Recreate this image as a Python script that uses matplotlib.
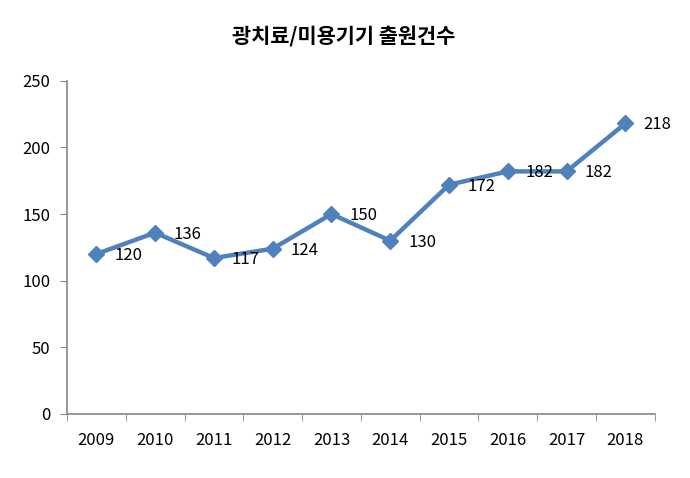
import numpy as np
import matplotlib.pyplot as plt

plt.rcParams['font.family'] = ['Noto Sans CJK KR', 'DejaVu Sans']

years = ['2009', '2010', '2011', '2012', '2013', '2014', '2015', '2016', '2017', '2018']
counts = [120, 136, 117, 124, 150, 130, 172, 182, 182, 218]

fig = plt.figure(figsize=(6.9, 4.78), dpi=100)
ax = fig.add_axes([0.097, 0.134, 0.852, 0.697])

x = np.arange(len(years))
ax.plot(x, counts, color='#4F81BD', linewidth=3.2, marker='D', markersize=8.5,
        markeredgecolor='#4F81BD')

for xi, v in zip(x, counts):
    ax.annotate(str(v), (xi, v), xytext=(23, -1), textcoords='offset points',
                ha='center', va='center', fontsize=12, color='black')

ax.set_xlim(-0.5, len(years) - 0.5)
ax.set_ylim(0, 250)
ax.set_yticks(np.arange(0, 251, 50))
ax.set_xticks(x)
ax.set_xticklabels(years)
ax.set_xticks(np.arange(-0.5, len(years), 1), minor=True)
ax.tick_params(axis='x', which='major', length=0, pad=13, labelsize=12)
ax.tick_params(axis='x', which='minor', length=5, direction='out', color='#868686')
ax.tick_params(axis='y', length=5, direction='out', color='#868686', labelsize=12, pad=7)

for s in ['top', 'right']:
    ax.spines[s].set_visible(False)
for s in ['left', 'bottom']:
    ax.spines[s].set_color('#868686')
    ax.spines[s].set_linewidth(1.2)

fig.text(0.498, 0.922, '광치료/미용기기 출원건수', ha='center', va='center',
         fontsize=15, fontweight='bold')

fig.savefig('out.png', dpi=100)
